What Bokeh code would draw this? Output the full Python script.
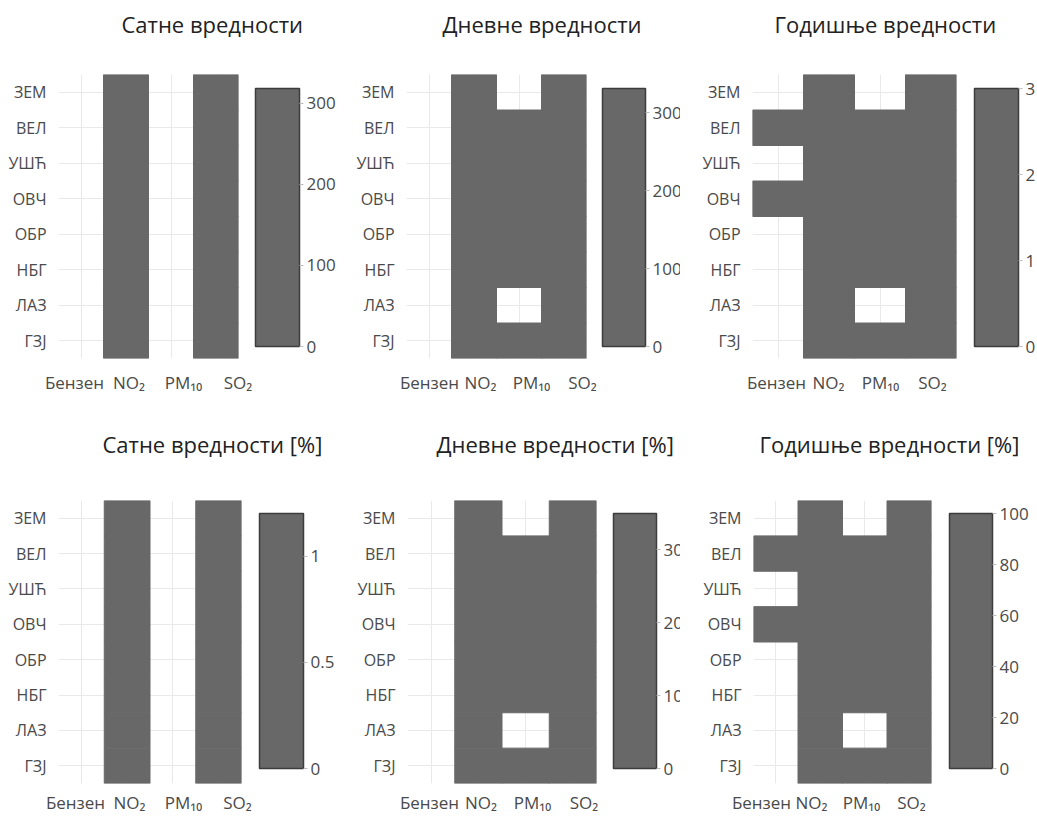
from bokeh.plotting import figure
from bokeh.models import (ColumnDataSource, LinearColorMapper, ColorBar, FixedTicker,
                          PrintfTickFormatter, LinearAxis, Range1d, Grid, Title)
from bokeh.layouts import row, column
from bokeh.transform import transform
from bokeh.embed import file_html
from bokeh.resources import INLINE

# ---------------- data ----------------
stations = ["ЗЕМ", "ВЕЛ", "УШЋ", "ОВЧ", "ОБР", "НБГ", "ЛАЗ", "ГЗЈ"]
pollutants = ["Бензен", "NO₂", "PM₁₀", "SO₂"]

# hourly exceedances (count)
hourly_benzene = [None, None, None, None, None, None, None, None]
hourly_no2 = [14, 9, 6, 11, 4, 22, 8, 318]
hourly_pm10 = [None, None, None, None, None, None, None, None]
hourly_so2 = [3, 0, 0, 1, 0, 2, 0, 5]

# daily exceedances (count)
daily_benzene = [None, None, None, None, None, None, None, None]
daily_no2 = [6, 2, 1, 4, 1, 9, 3, 331]
daily_pm10 = [None, 88, 64, 97, 71, 120, None, 105]
daily_so2 = [2, 0, 0, 1, 0, 1, 0, 3]

# annual exceedances (count)
annual_benzene = [None, 1, None, 1, None, None, None, None]
annual_no2 = [1, 1, 0, 1, 0, 1, 1, 3]
annual_pm10 = [None, 1, 1, 1, 1, 1, None, 1]
annual_so2 = [0, 0, 0, 0, 0, 0, 0, 1]

# hourly exceedances [%]
hourly_pct_benzene = [None, None, None, None, None, None, None, None]
hourly_pct_no2 = [0.05, 0.03, 0.02, 0.04, 0.01, 0.08, 0.03, 1.2]
hourly_pct_pm10 = [None, None, None, None, None, None, None, None]
hourly_pct_so2 = [0.01, 0.0, 0.0, 0.01, 0.0, 0.01, 0.0, 0.02]

# daily exceedances [%]
daily_pct_benzene = [None, None, None, None, None, None, None, None]
daily_pct_no2 = [1.6, 0.5, 0.3, 1.1, 0.3, 2.5, 0.8, 35]
daily_pct_pm10 = [None, 24, 18, 27, 19, 33, None, 29]
daily_pct_so2 = [0.5, 0.0, 0.0, 0.3, 0.0, 0.3, 0.0, 0.8]

# annual exceedances [%]
annual_pct_benzene = [None, 33, None, 33, None, None, None, None]
annual_pct_no2 = [33, 33, 0, 33, 0, 33, 33, 100]
annual_pct_pm10 = [None, 33, 33, 33, 33, 33, None, 33]
annual_pct_so2 = [0, 0, 0, 0, 0, 0, 0, 33]

titles = ["Сатне вредности", "Дневне вредности", "Годишње вредности",
          "Сатне вредности [%]", "Дневне вредности [%]", "Годишње вредности [%]"]
colorbar_ticks = [[0, 100, 200, 300], [0, 100, 200, 300], [0, 1, 2, 3],
                  [0, 0.5, 1], [0, 10, 20, 30], [0, 20, 40, 60, 80, 100]]

panels_data = [
    [hourly_benzene, hourly_no2, hourly_pm10, hourly_so2],
    [daily_benzene, daily_no2, daily_pm10, daily_so2],
    [annual_benzene, annual_no2, annual_pm10, annual_so2],
    [hourly_pct_benzene, hourly_pct_no2, hourly_pct_pm10, hourly_pct_so2],
    [daily_pct_benzene, daily_pct_no2, daily_pct_pm10, daily_pct_so2],
    [annual_pct_benzene, annual_pct_no2, annual_pct_pm10, annual_pct_so2],
]

# ---------------- style / layout ----------------
FONT = "Open Sans"
CELL = "#686868"
TXT = "#4a4a4a"

# fig_w, fig_h, left, top, frame_w, frame_h, cb_gap, cb_bottom, cb_w, cb_h,
# title_offset, title_gap, xlab_standoff, lab_first, lab_step
geom = [
    (340, 425, 58, 74, 180, 284, 17, 12, 44, 258, 63, 33, 6, 16, 54.5),
    (340, 425, 66, 74, 180, 284, 16, 12, 43, 258, 36, 33, 6, 23, 51),
    (357, 425, 72, 74, 204, 284, 18, 12, 44, 258, 22, 33, 6, 24, 52),
    (340, 391, 58, 75, 183, 283, 18, 15, 44, 255, 44, 39, 1, 17, 54),
    (340, 391, 67, 75, 189, 283, 17, 15, 43, 255, 29, 39, 1, 22, 51.5),
    (357, 391, 73, 75, 178, 283, 18, 15, 43, 255, 6, 39, 1, 8, 50),
]


def make_panel(title, series, ticks, g):
    (fig_w, fig_h, left, top, frame_w, frame_h, cb_gap, cb_bottom,
     cb_w, cb_h, t_off, t_gap, xl_stand, lab_first, lab_step) = g
    n = len(pollutants)
    idx = list(range(n))
    xs, ys, vs = [], [], []
    for i, vals in zip(idx, series):
        for st, v in zip(stations, vals):
            if v is not None:
                xs.append(i)
                ys.append(st)
                vs.append(v)
    src = ColumnDataSource(dict(x=xs, y=ys, v=vs))
    mapper = LinearColorMapper(palette=[CELL, CELL], low=0, high=max(vs))

    p = figure(x_range=Range1d(-0.5, n - 0.5), y_range=stations[::-1],
               width=fig_w, height=fig_h,
               min_border_left=left, min_border_top=top,
               min_border_right=fig_w - left - frame_w,
               min_border_bottom=fig_h - top - frame_h,
               x_axis_location=None,
               output_backend="svg", toolbar_location=None, tools="")
    p.rect(x="x", y="y", width=1, height=1, source=src,
           fill_color=transform("v", mapper), line_color=transform("v", mapper),
           line_width=1)

    # blank spacer between the cells and the title
    p.add_layout(Title(text=" ", text_font_size="1px", standoff=t_gap), "above")

    p.title.text = title
    p.title.align = "left"
    p.title.offset = t_off
    p.title.standoff = 0
    p.title.text_font = FONT
    p.title.text_font_size = "22px"
    p.title.text_font_style = "normal"
    p.title.text_color = "#222222"

    p.outline_line_color = None
    p.background_fill_color = "white"
    p.border_fill_color = "white"

    if len(p.xgrid) == 0:
        p.add_layout(Grid(dimension=0, ticker=FixedTicker(ticks=idx)))
    p.xgrid.ticker = FixedTicker(ticks=idx)
    p.grid.grid_line_color = "#e9e9e9"
    p.grid.grid_line_width = 1

    p.yaxis.axis_line_color = None
    p.yaxis.major_tick_line_color = None
    p.yaxis.minor_tick_line_color = None
    p.yaxis.major_label_text_font = FONT
    p.yaxis.major_label_text_color = TXT
    p.yaxis.major_label_text_font_size = "16px"
    p.yaxis.major_label_standoff = 6

    # pollutant labels laid out side by side below the cells (they are wider than the columns)
    p.extra_x_ranges = {"lab": Range1d(start=-lab_first / lab_step,
                                       end=(frame_w - lab_first) / lab_step)}
    xlab = LinearAxis(x_range_name="lab",
                      ticker=FixedTicker(ticks=idx),
                      major_label_overrides={i: name for i, name in zip(idx, pollutants)},
                      axis_line_color=None, major_tick_line_color=None,
                      minor_tick_line_color=None,
                      major_label_text_font=FONT, major_label_text_font_size="17px",
                      major_label_text_color=TXT, major_label_standoff=xl_stand)
    p.add_layout(xlab, "below")

    cb = ColorBar(color_mapper=mapper, location=(frame_w + cb_gap, cb_bottom),
                  width=cb_w, height=cb_h, padding=0, margin=0,
                  ticker=FixedTicker(ticks=ticks),
                  formatter=PrintfTickFormatter(format="%g"),
                  major_label_text_font=FONT, major_label_text_font_size="17px",
                  major_label_text_color=TXT, label_standoff=3,
                  major_tick_in=0, major_tick_out=4,
                  major_tick_line_color="#bdbdbd",
                  minor_tick_line_color=None,
                  bar_line_color="#3c3c3c", bar_line_width=1.5,
                  border_line_color=None, background_fill_color=None)
    p.add_layout(cb)
    return p


figs = [make_panel(t, d, tk, g) for t, d, tk, g in zip(titles, panels_data, colorbar_ticks, geom)]
layout = column(row(*figs[:3]), row(*figs[3:]))

open("out.html", "w").write(file_html(layout, INLINE))
